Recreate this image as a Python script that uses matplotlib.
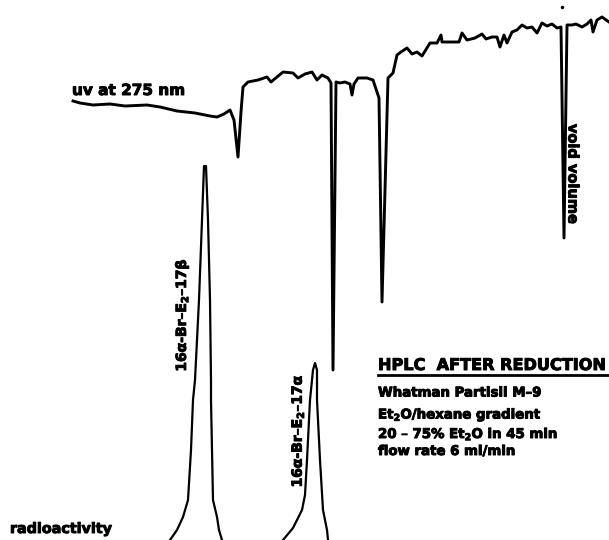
import matplotlib
matplotlib.use("Agg")
import matplotlib.pyplot as plt
import matplotlib.patheffects as pe

plt.rcParams['font.family'] = ['DejaVu Sans']
plt.rcParams['mathtext.fontset'] = 'dejavusans'
plt.rcParams['mathtext.default'] = 'bf'

# ---- data (x = elution position, y = recorder deflection, downward positive) ----
uv_x = [73, 80, 93, 110, 125, 147, 160, 177, 195, 210, 217, 224, 230, 234, 238, 241, 243, 248,
        258, 267, 271, 283, 293, 298, 305, 312, 317, 322, 328, 331,
        333, 336, 340, 345, 350, 352, 354, 358, 367, 373, 377, 379,
        382, 388, 393, 397, 401, 407, 412, 417, 422, 430,
        437, 441, 442, 450, 459, 462, 467, 475, 482, 486, 492, 497, 500, 504, 507, 512,
        517, 522, 527, 532, 537, 542, 547, 552, 557, 561,
        564, 567, 572, 576, 582, 587, 591, 593, 597, 602, 609]
uv_y = [101, 103, 105, 104, 106, 105, 107, 111, 113, 116, 117, 114, 110, 120, 157, 112, 87, 82,
        80, 77, 82, 72, 73, 78, 74, 72, 80, 75, 78, 83,
        370, 82, 83, 82, 84, 95, 84, 78, 78, 80, 92, 98,
        302, 78, 73, 55, 52, 48, 54, 52, 56, 43,
        43, 35, 42, 42, 42, 33, 40, 38, 34, 39, 37, 37, 47, 35, 43, 32,
        30, 25, 28, 27, 33, 23, 26, 24, 28, 27,
        238, 25, 25, 24, 27, 24, 20, 32, 20, 17, 22]

peak1_x = [170, 177, 183, 188, 191, 193, 195, 199, 202, 204, 206, 208, 210, 211, 211, 212, 213, 217, 219, 222]
peak1_y = [540, 530, 517, 500, 450, 400, 380, 300, 220, 166, 166, 220, 300, 380, 400, 450, 500, 517, 530, 540]

peak2_x = [283, 293, 302, 305, 307, 310, 313, 315, 317, 317, 320, 323, 327, 328]
peak2_y = [540, 528, 510, 495, 460, 400, 370, 363, 370, 400, 460, 510, 530, 540]

peak_labels = ['16α-Br–E$_2$–17β', '16α-Br–E$_2$–17α']
conditions = ['Whatman Partisil M–9',
              'Et$_2$O/hexane gradient',
              '20 – 75% Et$_2$O in 45 min',
              'flow rate 6 ml/min']

fig = plt.figure(figsize=(6.09, 5.40), dpi=100)
ax = fig.add_axes([0, 0, 1, 1])
ax.set_xlim(0, 609)
ax.set_ylim(540, 0)
ax.axis('off')

heavy = [pe.withStroke(linewidth=0.7, foreground='black')]

ax.plot(uv_x, uv_y, color='black', lw=2.1, solid_joinstyle='round')
ax.plot(peak1_x, peak1_y, color='black', lw=1.6)
ax.plot(peak2_x, peak2_y, color='black', lw=1.6)
ax.plot([562], [7], marker='o', ms=1.5, color='black')

def label(x, y, s, **kw):
    t = ax.text(x, y, s, fontweight='bold', color='black', **kw)
    t.set_path_effects(heavy)
    return t

label(72, 95, 'uv at 275 nm', fontsize=11, ha='left', va='baseline')
label(10, 533, 'radioactivity', fontsize=10.3, ha='left', va='baseline')
label(182, 315, peak_labels[0], fontsize=10, rotation=90, ha='center', va='center')
label(298, 431, peak_labels[1], fontsize=10, rotation=90, ha='center', va='center')
label(573, 174, 'void volume', fontsize=10.5, rotation=-90, ha='center', va='center')

label(378, 370, 'HPLC  AFTER REDUCTION', fontsize=11.6, ha='left', va='baseline')
ax.plot([378, 608], [374.5, 374.5], color='black', lw=2)
for i, line in enumerate(conditions):
    shift = 2.5 if '$' in line else 0.0
    label(378, 396.5 + i * 19.5 + shift, line, fontsize=9.6, ha='left', va='baseline')

fig.savefig('out.png', dpi=100)
